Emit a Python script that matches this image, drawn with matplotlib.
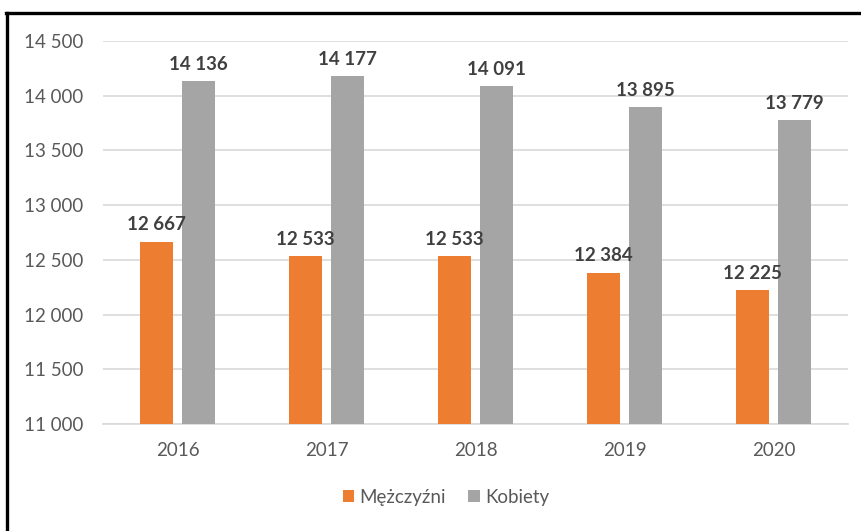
import numpy as np
import matplotlib.pyplot as plt
from matplotlib.lines import Line2D
from matplotlib.ticker import FuncFormatter

years = ['2016', '2017', '2018', '2019', '2020']
mezczyzni = [12667, 12533, 12533, 12384, 12225]
kobiety = [14136, 14177, 14091, 13895, 13779]

plt.rcParams['font.family'] = ['Lato', 'DejaVu Sans']

W, H = 862, 531
fig = plt.figure(figsize=(W / 100, H / 100), dpi=100)
ax = fig.add_axes([103 / W, 1 - 424 / H, 745 / W, 383 / H])

x = np.arange(len(years))
bw = 0.225
b1 = ax.bar(x - 0.14, mezczyzni, bw, color='#ED7D31', label='Mężczyźni', zorder=3)
b2 = ax.bar(x + 0.14, kobiety, bw, color='#A5A5A5', label='Kobiety', zorder=3)

fmt = lambda v: f'{int(v):,}'.replace(',', ' ')
for bars in (b1, b2):
    for r in bars:
        ax.text(r.get_x() + r.get_width() / 2, r.get_height() + 75, fmt(r.get_height()),
                ha='center', va='bottom', fontsize=13.5, fontweight='bold', color='#404040')

ax.set_ylim(11000, 14500)
ax.set_yticks(np.arange(11000, 14501, 500))
ax.yaxis.set_major_formatter(FuncFormatter(lambda v, p: fmt(v)))
ax.set_xlim(-0.5, len(years) - 0.5)
ax.set_xticks(x)
ax.set_xticklabels(years)
ax.grid(axis='y', color='#D9D9D9', linewidth=1.2, zorder=0)
for s in ['top', 'right', 'left']:
    ax.spines[s].set_visible(False)
ax.spines['bottom'].set_color('#D9D9D9')
ax.spines['bottom'].set_linewidth(1.2)
ax.tick_params(axis='both', length=0, labelsize=13.5, labelcolor='#595959')
ax.tick_params(axis='y', pad=14)
ax.tick_params(axis='x', pad=13)

fig.legend(handles=[b1, b2], loc='center', bbox_to_anchor=(446 / W, 1 - 497 / H), ncol=2,
           frameon=False, fontsize=13.5, labelcolor='#595959', handlelength=0.6,
           handleheight=0.6, handletextpad=0.3, columnspacing=1.2)

# border (left and top)
fig.add_artist(Line2D([7 / W, 7 / W], [0, 1 - 13 / H], color='black', linewidth=2.4,
                      transform=fig.transFigure))
fig.add_artist(Line2D([6 / W, 1], [1 - 13 / H, 1 - 13 / H], color='black', linewidth=2.4,
                      transform=fig.transFigure))

fig.savefig('out.png', dpi=100)
